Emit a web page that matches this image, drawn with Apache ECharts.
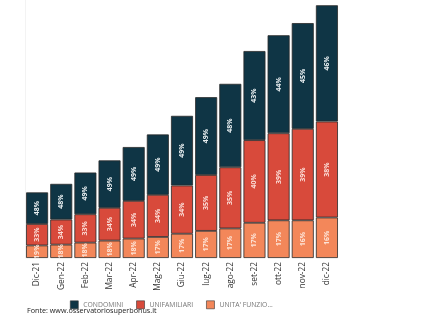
<!DOCTYPE html>
<html><head><meta charset="utf-8">
<script src="https://cdn.jsdelivr.net/npm/echarts@6/dist/echarts.min.js"></script>
<style>html,body{margin:0;padding:0;background:#fff}#c{width:428px;height:321px}</style>
</head><body><div id="c"></div>
<script>
var categories = ['Dic-21','Gen-22','Feb-22','Mar-22','Apr-22','Mag-22','Giu-22','lug-22','ago-22','set-22','ott-22','nov-22','dic-22'];
var unita = [3.1, 3.3, 3.8, 4.3, 4.8, 5.2, 6.0, 6.7, 7.3, 8.7, 9.3, 9.3, 10.0];
var unifamiliari = [5.3, 6.2, 7.0, 8.1, 9.3, 10.4, 11.9, 13.8, 15.1, 20.4, 21.5, 22.6, 23.7];
var condomini = [7.8, 8.8, 10.3, 11.7, 13.3, 14.9, 17.2, 19.2, 20.6, 22.0, 24.2, 26.1, 28.7];
var pctUnita = ['19%','18%','18%','18%','18%','17%','17%','17%','17%','17%','17%','16%','16%'];
var pctUnifamiliari = ['33%','34%','33%','34%','34%','34%','34%','35%','35%','40%','39%','39%','38%'];
var pctCondomini = ['48%','48%','49%','49%','49%','49%','49%','49%','48%','43%','44%','45%','46%'];
var legendNames = ['CONDOMINI','UNIFAMILIARI',"UNITA' FUNZIO..."];

var chart = echarts.init(document.getElementById('c'), null, {renderer:'canvas'});
function lbl(arr, color){
  return {show:true, rotate:90, position:'inside', color:color, fontSize:7, fontWeight:'bold',
    fontFamily:'Open Sans', formatter:function(p){return arr[p.dataIndex];}};
}
var border = {borderColor:'#2a2a2a', borderWidth:0.8};
chart.setOption({
  animation:false,
  textStyle:{fontFamily:'Open Sans'},
  grid:{left:25, right:89, top:0, bottom:63},
  legend:{left:65, top:295.5, itemWidth:8, itemHeight:8, itemGap:13, icon:'rect',
    textStyle:{color:'#777', fontSize:6.8, fontFamily:'Open Sans'},
    data:[{name:legendNames[0], itemStyle:{borderColor:'#333',borderWidth:0.6}},
          {name:legendNames[1], itemStyle:{borderColor:'#333',borderWidth:0.6}},
          {name:legendNames[2], itemStyle:{borderColor:'#333',borderWidth:0.6}}]},
  graphic:[{type:'text', left:27, top:307.5, style:{text:'Fonte: www.osservatoriosuperbonus.it', fill:'#222', fontSize:7.2, fontFamily:'Open Sans'}}],
  xAxis:{type:'category', data:categories, axisLine:{show:false}, axisTick:{show:false},
    axisLabel:{rotate:90, fontSize:8.3, color:'#333', margin:4, interval:0, fontFamily:'Open Sans'}},
  yAxis:{type:'value', min:0, max:63.7, show:true, splitLine:{show:false}, axisLabel:{show:false}, axisTick:{show:false},
    axisLine:{show:true, lineStyle:{color:'#f3f3f3'}}},
  series:[
    {name:legendNames[2], type:'bar', stack:'t', data:unita, barWidth:22,
      itemStyle:Object.assign({color:'#f3875a'}, border), label:lbl(pctUnita,'#fde3d6')},
    {name:legendNames[1], type:'bar', stack:'t', data:unifamiliari, barWidth:22,
      itemStyle:Object.assign({color:'#d84a3b'}, border), label:lbl(pctUnifamiliari,'#fbdcd6')},
    {name:legendNames[0], type:'bar', stack:'t', data:condomini, barWidth:22,
      itemStyle:Object.assign({color:'#0f3545'}, border), label:lbl(pctCondomini,'#e8eef0')}
  ]
});
</script></body></html>
